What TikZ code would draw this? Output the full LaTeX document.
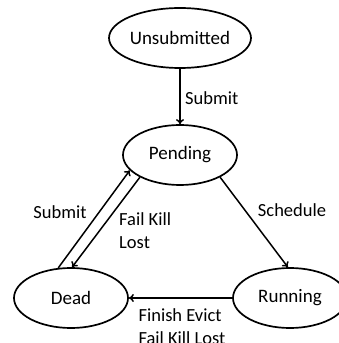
\documentclass[tikz,border=0pt]{standalone}
\usepackage{fontspec}
\setmainfont{Carlito}
\usetikzlibrary{shapes.geometric,arrows.meta}
\begin{document}
\begin{tikzpicture}[x=1pt,y=1pt,
  state/.style={draw,ellipse,line width=1.7pt,minimum width=114pt,minimum height=60pt,inner sep=0pt,font=\fontsize{19}{22}\selectfont},
  trans/.style={draw,line width=1.5pt,-{To[length=5pt,width=8pt]}},
  lbl/.style={font=\fontsize{18.5}{23}\selectfont,inner sep=0pt,align=left}]
\useasboundingbox (0,0) rectangle (339,343);
\node[state] (uns) at (180,305) {Unsubmitted};
\node[state] (pend) at (180,188) {Pending};
\node[state] (dead) at (71,45) {Dead};
\node[state] (run) at (290,45) {Running};
\draw[trans] (uns) -- (pend);
\draw[trans] (dead.113) -- (pend.197);
\draw[trans] (pend.209) -- (dead.88);
\draw[trans] (pend.-29) -- (run.94);
\draw[trans] (run.west) -- (dead.east);
\node[lbl,anchor=west] (l1) at (185,245) {Submit};
\node[lbl] (l2) at (60,131) {Submit};
\node[lbl,anchor=west] (l3) at (119,112) {Fail Kill\\Lost};
\node[lbl] (l4) at (292,133) {Schedule};
\node[lbl] (l5) at (182,16) {Finish Evict\\Fail Kill Lost};
\end{tikzpicture}
\end{document}
